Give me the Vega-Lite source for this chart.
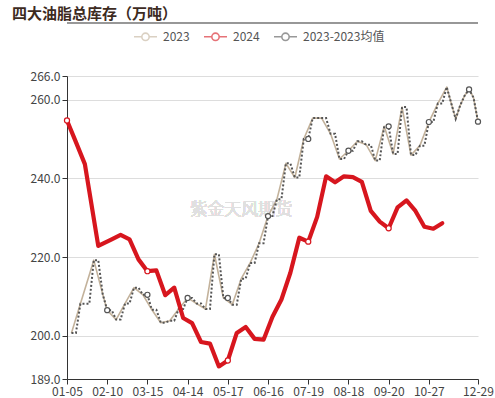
{
  "$schema": "https://vega.github.io/schema/vega-lite/v6.json",
  "width": 411,
  "height": 303,
  "autosize": {"type": "none"},
  "padding": {"left": 67, "top": 76, "right": 17, "bottom": 19},
  "background": "white",
  "config": {
    "font": "Noto Sans CJK SC",
    "view": {"stroke": null},
    "legend": {
      "symbolType": "M-1,0L-0.32,0M0.32,0L1,0M0.32,0A0.32,0.32,0,1,1,-0.32,0A0.32,0.32,0,1,1,0.32,0",
      "symbolSize": 529,
      "symbolStrokeWidth": 1.6,
      "symbolFillColor": "white",
      "symbolOpacity": 0.6,
      "labelFontSize": 12,
      "labelColor": "#555555",
      "labelOffset": 5,
      "columnPadding": 10
    }
  },
  "title": {
    "text": "四大油脂总库存（万吨）",
    "anchor": "start",
    "frame": "group",
    "dx": -55,
    "offset": 9,
    "dy": 8,
    "fontSize": 15,
    "fontWeight": "bold",
    "color": "#3d2b1f"
  },
  "data": {
    "values": [
      {"d": "01-05", "s": "2024", "v": 254.7},
      {"d": "01-12", "s": "2024", "v": 249.2},
      {"d": "01-19", "s": "2024", "v": 243.6},
      {"d": "01-26", "s": "2024", "v": 236.7},
      {"d": "02-02", "s": "2024", "v": 222.8},
      {"d": "02-16", "s": "2024", "v": 224.5},
      {"d": "02-23", "s": "2024", "v": 225.6},
      {"d": "03-01", "s": "2024", "v": 224.5},
      {"d": "03-08", "s": "2024", "v": 219.4},
      {"d": "03-15", "s": "2024", "v": 216.4},
      {"d": "03-22", "s": "2024", "v": 216.6},
      {"d": "03-29", "s": "2024", "v": 210.3},
      {"d": "04-05", "s": "2024", "v": 212.2},
      {"d": "04-12", "s": "2024", "v": 204.5},
      {"d": "04-19", "s": "2024", "v": 203.2},
      {"d": "04-26", "s": "2024", "v": 198.4},
      {"d": "05-03", "s": "2024", "v": 198.0},
      {"d": "05-10", "s": "2024", "v": 192.2},
      {"d": "05-17", "s": "2024", "v": 193.7},
      {"d": "05-24", "s": "2024", "v": 200.7},
      {"d": "05-31", "s": "2024", "v": 202.2},
      {"d": "06-07", "s": "2024", "v": 199.2},
      {"d": "06-14", "s": "2024", "v": 199.0},
      {"d": "06-21", "s": "2024", "v": 204.8},
      {"d": "06-28", "s": "2024", "v": 209.2},
      {"d": "07-05", "s": "2024", "v": 216.0},
      {"d": "07-12", "s": "2024", "v": 224.9},
      {"d": "07-19", "s": "2024", "v": 223.9},
      {"d": "07-26", "s": "2024", "v": 230.2},
      {"d": "08-02", "s": "2024", "v": 240.5},
      {"d": "08-09", "s": "2024", "v": 239.0},
      {"d": "08-16", "s": "2024", "v": 240.5},
      {"d": "08-23", "s": "2024", "v": 240.3},
      {"d": "08-30", "s": "2024", "v": 239.1},
      {"d": "09-06", "s": "2024", "v": 231.7},
      {"d": "09-13", "s": "2024", "v": 229.0},
      {"d": "09-20", "s": "2024", "v": 227.3},
      {"d": "09-27", "s": "2024", "v": 232.6},
      {"d": "10-11", "s": "2024", "v": 234.4},
      {"d": "10-18", "s": "2024", "v": 231.7},
      {"d": "10-25", "s": "2024", "v": 227.7},
      {"d": "11-01", "s": "2024", "v": 227.2},
      {"d": "11-08", "s": "2024", "v": 228.6},

      {"d": "01-06", "s": "2023", "v": 200.7},
      {"d": "01-13", "s": "2023", "v": 208.1},
      {"d": "01-28", "s": "2023", "v": 219.2},
      {"d": "02-03", "s": "2023", "v": 210.5},
      {"d": "02-10", "s": "2023", "v": 206.5},
      {"d": "02-17", "s": "2023", "v": 204.1},
      {"d": "02-24", "s": "2023", "v": 208.2},
      {"d": "03-03", "s": "2023", "v": 212.2},
      {"d": "03-10", "s": "2023", "v": 210.4},
      {"d": "03-17", "s": "2023", "v": 206.6},
      {"d": "03-24", "s": "2023", "v": 203.3},
      {"d": "03-31", "s": "2023", "v": 203.8},
      {"d": "04-07", "s": "2023", "v": 206.8},
      {"d": "04-14", "s": "2023", "v": 209.6},
      {"d": "04-21", "s": "2023", "v": 208.2},
      {"d": "04-28", "s": "2023", "v": 206.8},
      {"d": "05-05", "s": "2023", "v": 220.7},
      {"d": "05-12", "s": "2023", "v": 209.6},
      {"d": "05-19", "s": "2023", "v": 207.9},
      {"d": "05-26", "s": "2023", "v": 214.5},
      {"d": "06-02", "s": "2023", "v": 218.5},
      {"d": "06-09", "s": "2023", "v": 223.5},
      {"d": "06-16", "s": "2023", "v": 230.4},
      {"d": "06-23", "s": "2023", "v": 234.7},
      {"d": "06-30", "s": "2023", "v": 243.8},
      {"d": "07-07", "s": "2023", "v": 240.2},
      {"d": "07-14", "s": "2023", "v": 250.0},
      {"d": "07-21", "s": "2023", "v": 255.3},
      {"d": "07-28", "s": "2023", "v": 255.3},
      {"d": "08-04", "s": "2023", "v": 251.3},
      {"d": "08-11", "s": "2023", "v": 244.9},
      {"d": "08-18", "s": "2023", "v": 247.0},
      {"d": "08-25", "s": "2023", "v": 249.4},
      {"d": "09-01", "s": "2023", "v": 248.5},
      {"d": "09-08", "s": "2023", "v": 244.5},
      {"d": "09-15", "s": "2023", "v": 253.2},
      {"d": "09-22", "s": "2023", "v": 246.2},
      {"d": "09-29", "s": "2023", "v": 258.1},
      {"d": "10-13", "s": "2023", "v": 245.9},
      {"d": "10-20", "s": "2023", "v": 248.3},
      {"d": "10-27", "s": "2023", "v": 254.3},
      {"d": "11-03", "s": "2023", "v": 259.0},
      {"d": "11-10", "s": "2023", "v": 263.2},
      {"d": "11-17", "s": "2023", "v": 259.1},
      {"d": "11-24", "s": "2023", "v": 255.1},
      {"d": "12-01", "s": "2023", "v": 258.5},
      {"d": "12-08", "s": "2023", "v": 261.0},
      {"d": "12-15", "s": "2023", "v": 262.6},
      {"d": "12-22", "s": "2023", "v": 260.5},
      {"d": "12-29", "s": "2023", "v": 254.4},

      {"d": "01-06", "s": "2023-2023均值", "v": 200.7},
      {"d": "01-12", "s": "2023-2023均值", "v": 200.7},
      {"d": "01-13", "s": "2023-2023均值", "v": 208.1},
      {"d": "01-19", "s": "2023-2023均值", "v": 208.1},
      {"d": "01-26", "s": "2023-2023均值", "v": 208.1},
      {"d": "01-28", "s": "2023-2023均值", "v": 219.2},
      {"d": "02-02", "s": "2023-2023均值", "v": 219.2},
      {"d": "02-03", "s": "2023-2023均值", "v": 210.5},
      {"d": "02-10", "s": "2023-2023均值", "v": 206.5},
      {"d": "02-16", "s": "2023-2023均值", "v": 206.5},
      {"d": "02-17", "s": "2023-2023均值", "v": 204.1},
      {"d": "02-23", "s": "2023-2023均值", "v": 204.1},
      {"d": "02-24", "s": "2023-2023均值", "v": 208.2},
      {"d": "03-01", "s": "2023-2023均值", "v": 208.2},
      {"d": "03-03", "s": "2023-2023均值", "v": 212.2},
      {"d": "03-08", "s": "2023-2023均值", "v": 212.2},
      {"d": "03-10", "s": "2023-2023均值", "v": 210.4},
      {"d": "03-15", "s": "2023-2023均值", "v": 210.4},
      {"d": "03-17", "s": "2023-2023均值", "v": 206.6},
      {"d": "03-22", "s": "2023-2023均值", "v": 206.6},
      {"d": "03-24", "s": "2023-2023均值", "v": 203.3},
      {"d": "03-29", "s": "2023-2023均值", "v": 203.3},
      {"d": "03-31", "s": "2023-2023均值", "v": 203.8},
      {"d": "04-05", "s": "2023-2023均值", "v": 203.8},
      {"d": "04-07", "s": "2023-2023均值", "v": 206.8},
      {"d": "04-12", "s": "2023-2023均值", "v": 206.8},
      {"d": "04-14", "s": "2023-2023均值", "v": 209.6},
      {"d": "04-19", "s": "2023-2023均值", "v": 209.6},
      {"d": "04-21", "s": "2023-2023均值", "v": 208.2},
      {"d": "04-26", "s": "2023-2023均值", "v": 208.2},
      {"d": "04-28", "s": "2023-2023均值", "v": 206.8},
      {"d": "05-03", "s": "2023-2023均值", "v": 206.8},
      {"d": "05-05", "s": "2023-2023均值", "v": 220.7},
      {"d": "05-10", "s": "2023-2023均值", "v": 220.7},
      {"d": "05-12", "s": "2023-2023均值", "v": 209.6},
      {"d": "05-17", "s": "2023-2023均值", "v": 209.6},
      {"d": "05-19", "s": "2023-2023均值", "v": 207.9},
      {"d": "05-24", "s": "2023-2023均值", "v": 207.9},
      {"d": "05-26", "s": "2023-2023均值", "v": 214.5},
      {"d": "05-31", "s": "2023-2023均值", "v": 214.5},
      {"d": "06-02", "s": "2023-2023均值", "v": 218.5},
      {"d": "06-07", "s": "2023-2023均值", "v": 218.5},
      {"d": "06-09", "s": "2023-2023均值", "v": 223.5},
      {"d": "06-14", "s": "2023-2023均值", "v": 223.5},
      {"d": "06-16", "s": "2023-2023均值", "v": 230.4},
      {"d": "06-21", "s": "2023-2023均值", "v": 230.4},
      {"d": "06-23", "s": "2023-2023均值", "v": 234.7},
      {"d": "06-28", "s": "2023-2023均值", "v": 234.7},
      {"d": "06-30", "s": "2023-2023均值", "v": 243.8},
      {"d": "07-05", "s": "2023-2023均值", "v": 243.8},
      {"d": "07-07", "s": "2023-2023均值", "v": 240.2},
      {"d": "07-12", "s": "2023-2023均值", "v": 240.2},
      {"d": "07-14", "s": "2023-2023均值", "v": 250.0},
      {"d": "07-19", "s": "2023-2023均值", "v": 250.0},
      {"d": "07-21", "s": "2023-2023均值", "v": 255.3},
      {"d": "07-26", "s": "2023-2023均值", "v": 255.3},
      {"d": "07-28", "s": "2023-2023均值", "v": 255.3},
      {"d": "08-02", "s": "2023-2023均值", "v": 255.3},
      {"d": "08-04", "s": "2023-2023均值", "v": 251.3},
      {"d": "08-09", "s": "2023-2023均值", "v": 251.3},
      {"d": "08-11", "s": "2023-2023均值", "v": 244.9},
      {"d": "08-16", "s": "2023-2023均值", "v": 244.9},
      {"d": "08-18", "s": "2023-2023均值", "v": 247.0},
      {"d": "08-23", "s": "2023-2023均值", "v": 247.0},
      {"d": "08-25", "s": "2023-2023均值", "v": 249.4},
      {"d": "08-30", "s": "2023-2023均值", "v": 249.4},
      {"d": "09-01", "s": "2023-2023均值", "v": 248.5},
      {"d": "09-06", "s": "2023-2023均值", "v": 248.5},
      {"d": "09-08", "s": "2023-2023均值", "v": 244.5},
      {"d": "09-13", "s": "2023-2023均值", "v": 244.5},
      {"d": "09-15", "s": "2023-2023均值", "v": 253.2},
      {"d": "09-20", "s": "2023-2023均值", "v": 253.2},
      {"d": "09-22", "s": "2023-2023均值", "v": 246.2},
      {"d": "09-27", "s": "2023-2023均值", "v": 246.2},
      {"d": "09-29", "s": "2023-2023均值", "v": 258.1},
      {"d": "10-11", "s": "2023-2023均值", "v": 258.1},
      {"d": "10-13", "s": "2023-2023均值", "v": 245.9},
      {"d": "10-18", "s": "2023-2023均值", "v": 245.9},
      {"d": "10-20", "s": "2023-2023均值", "v": 248.3},
      {"d": "10-25", "s": "2023-2023均值", "v": 248.3},
      {"d": "10-27", "s": "2023-2023均值", "v": 254.3},
      {"d": "11-01", "s": "2023-2023均值", "v": 254.3},
      {"d": "11-03", "s": "2023-2023均值", "v": 259.0},
      {"d": "11-08", "s": "2023-2023均值", "v": 259.0},
      {"d": "11-10", "s": "2023-2023均值", "v": 263.2},
      {"d": "11-17", "s": "2023-2023均值", "v": 259.1},
      {"d": "11-24", "s": "2023-2023均值", "v": 255.1},
      {"d": "12-01", "s": "2023-2023均值", "v": 258.5},
      {"d": "12-08", "s": "2023-2023均值", "v": 261.0},
      {"d": "12-15", "s": "2023-2023均值", "v": 262.6},
      {"d": "12-22", "s": "2023-2023均值", "v": 260.5},
      {"d": "12-29", "s": "2023-2023均值", "v": 254.4}
    ]
  },
  "encoding": {
    "x": {
      "field": "d",
      "type": "ordinal",
      "sort": "ascending",
      "scale": {"type": "point", "padding": 0},
      "axis": {
        "title": null,
        "values": ["01-05", "02-10", "03-15", "04-14", "05-17", "06-16", "07-19", "08-18", "09-20", "10-27", "12-29"],
        "labelAngle": 0,
        "labelFontSize": 12,
        "labelColor": "#444444",
        "labelPadding": 2,
        "tickSize": 5,
        "tickColor": "#333333",
        "domainColor": "#333333",
        "grid": false,
        "labelOverlap": false
      }
    },
    "y": {
      "field": "v",
      "type": "quantitative",
      "scale": {"domain": [189, 266], "nice": false, "zero": false},
      "axis": {
        "title": null,
        "values": [189, 200, 220, 240, 260, 266],
        "format": ".1f",
        "labelFontSize": 12,
        "labelColor": "#444444",
        "labelPadding": 2,
        "tickSize": 5,
        "tickColor": "#333333",
        "domainColor": "#333333",
        "grid": true,
        "gridColor": "#dddddd",
        "labelOverlap": false
      }
    }
  },
  "layer": [
    {
      "mark": {"type": "text", "text": "紫金天风期货", "fontSize": 17, "fontWeight": 300, "color": "#e0e0e0"},
      "encoding": {
        "x": {"datum": "05-26", "type": "ordinal"},
        "y": {"datum": 232, "type": "quantitative"}
      }
    },
    {
      "mark": {"type": "rule", "color": "#999999", "strokeWidth": 1, "clip": false},
      "encoding": {
        "x": {"datum": "01-05", "type": "ordinal"},
        "x2": {"datum": "12-29"},
        "y": {"datum": 279.4, "type": "quantitative"}
      }
    },
    {
      "transform": [{"filter": "datum.s === '2023'"}],
      "mark": {"type": "line", "strokeWidth": 1.6, "strokeJoin": "round"},
      "encoding": {
        "color": {
          "field": "s",
          "type": "nominal",
          "scale": {"domain": ["2023", "2024", "2023-2023均值"], "range": ["#c3b29b", "#d7161e", "#555555"]},
          "legend": {"title": null, "orient": "none", "direction": "horizontal", "legendX": 66, "legendY": -52}
        }
      }
    },
    {
      "transform": [{"filter": "datum.s === '2023-2023均值'"}],
      "mark": {"type": "line", "strokeWidth": 2, "strokeDash": [2, 2]},
      "encoding": {
        "color": {"field": "s", "type": "nominal"}
      }
    },
    {
      "transform": [{"filter": "datum.s === '2024'"}],
      "mark": {"type": "line", "strokeWidth": 4.2, "strokeJoin": "round", "strokeCap": "round"},
      "encoding": {
        "color": {"field": "s", "type": "nominal"}
      }
    },
    {
      "transform": [
        {"filter": "datum.s !== '2023'"},
        {"filter": {"field": "d", "oneOf": ["01-05", "02-10", "03-15", "04-14", "05-17", "06-16", "07-19", "08-18", "09-20", "10-27", "12-15", "12-29"]}}
      ],
      "mark": {"type": "point", "filled": false, "fill": "white", "fillOpacity": 1, "opacity": 1, "size": 26, "strokeWidth": 1.2},
      "encoding": {
        "color": {"field": "s", "type": "nominal"}
      }
    }
  ]
}
